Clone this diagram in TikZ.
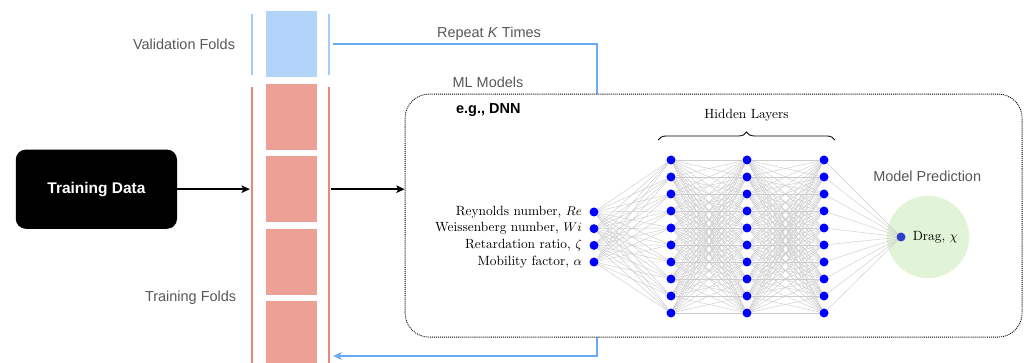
\documentclass[tikz,border=0pt]{standalone}
\usepackage{fontspec}
\setsansfont{Liberation Sans}
\usepackage{amsmath,amssymb}
\usetikzlibrary{arrows.meta,positioning,decorations.pathreplacing}

\definecolor{valblue}{RGB}{179,212,250}
\definecolor{vallineblue}{RGB}{165,205,250}
\definecolor{trainred}{RGB}{236,160,150}
\definecolor{trainlinered}{RGB}{232,135,125}
\definecolor{loopblue}{RGB}{105,170,245}
\definecolor{predgreen}{RGB}{225,244,215}
\definecolor{outblue}{RGB}{45,65,205}
\definecolor{capgray}{RGB}{88,88,88}

\begin{document}
\begin{tikzpicture}[
  fold/.style={minimum width=1.275cm,minimum height=1.65cm,inner sep=0pt},
  flow/.style={-{Stealth[length=2.1mm,width=1.9mm,inset=0.5mm]},line width=1pt},
  repeatline/.style={loopblue,line width=1.1pt},
  neuron/.style={circle,fill=blue,minimum size=0.225cm,inner sep=0pt},
  wire/.style={black!20,line width=0.3pt},
  graytext/.style={font=\fontsize{10.3}{12}\selectfont\sffamily,text=capgray},
  feature/.style={font=\fontsize{9.5}{11}\selectfont}]
\useasboundingbox (0,0) rectangle (25.625,-9.075);
% data and folds
\node[fill=black,rounded corners=0.25cm,minimum width=4.03cm,minimum height=1.98cm,
  text=white,font=\fontsize{11}{13}\selectfont\sffamily\bfseries] (data) at (2.41,-4.73) {Training Data};
\node[fold,fill=valblue] (val) at (7.29,-1.11) {};
\foreach \i in {1,...,4}
  \node[fold,fill=trainred] (train\i) at (7.29,{-1.11-1.81*\i}) {};
\draw[vallineblue,line width=0.8pt] (6.30,-0.35) -- (6.30,-1.875) (8.225,-0.35) -- (8.225,-1.875);
\draw[trainlinered,line width=0.8pt] (6.30,-2.175) -- (6.30,-9.1) (8.225,-2.175) -- (8.225,-9.1);
\node[graytext,anchor=east] (vallabel) at (6.0,-1.12) {Validation Folds};
\node[graytext,anchor=east] (trainlabel) at (6.03,-7.45) {Training Folds};
% repeat loop, runs behind the model box
\coordinate (loopstart) at (8.33,-1.10);
\coordinate (loopend) at (8.33,-8.90);
\draw[repeatline,-{Stealth[length=2.1mm,width=1.9mm,inset=0.5mm]}] (loopstart)
  -- node[pos=0.59,above,graytext,inner sep=2pt] {Repeat \textit{K} Times} ++(6.6,0) |- (loopend);
% model box
\node[graytext] (mllabel) at (12.2,-2.05) {ML Models};
\node[draw,fill=white,rounded corners=0.6cm,line width=0.6pt,dash pattern=on 0.7pt off 0.7pt,
  minimum width=15.425cm,minimum height=6.075cm] (ml) at (17.84,-5.39) {};
\node[font=\fontsize{10.3}{12}\selectfont\sffamily\bfseries,anchor=west] (dnn) at (11.28,-2.75) {e.g., DNN};
\node[circle,fill=predgreen,minimum size=2.06cm,inner sep=0pt] (pred) at (23.2,-5.925) {};
\node[graytext] (predlabel) at (23.18,-4.42) {Model Prediction};
% network
\foreach \txt [count=\i] in {{Reynolds number, $Re$},{Weissenberg number, $Wi$},
    {Retardation ratio, $\zeta$},{Mobility factor, $\alpha$}}
  \node[neuron,label={[feature,label distance=0.06cm]left:{\txt}}] (in\i) at (14.85,{-5.30-0.417*(\i-1)}) {};
\foreach \l/\x in {1/16.775,2/18.675,3/20.6}
  \foreach \j in {1,...,10}
    \node[neuron] (h\l-\j) at (\x,{-4.0-0.425*(\j-1)}) {};
\node[neuron,fill=outblue,label={[feature,label distance=0.05cm]right:{Drag, $\chi$}}] (out) at (22.525,-5.925) {};
\foreach \i in {1,...,4}
  \foreach \j in {1,...,10}
    \draw[wire] (in\i) -- (h1-\j);
\foreach \i in {1,...,10} {
  \foreach \j in {1,...,10} {
    \draw[wire] (h1-\i) -- (h2-\j);
    \draw[wire] (h2-\i) -- (h3-\j);
  }
  \draw[wire] (h3-\i) -- (out);
}
\draw[decorate,decoration={brace,amplitude=0.2cm},line width=0.6pt]
  ([shift={(-0.32,0.5)}]h1-1.center) -- node[midway,yshift=0.62cm,feature] {Hidden Layers}
  ([shift={(0.27,0.5)}]h3-1.center);
% flow arrows
\draw[flow] (data.east) -- ([xshift=-4mm]train2.west);
\draw[flow] ([xshift=3.5mm]train2.east) -- (train2 -| ml.west);
\end{tikzpicture}
\end{document}
